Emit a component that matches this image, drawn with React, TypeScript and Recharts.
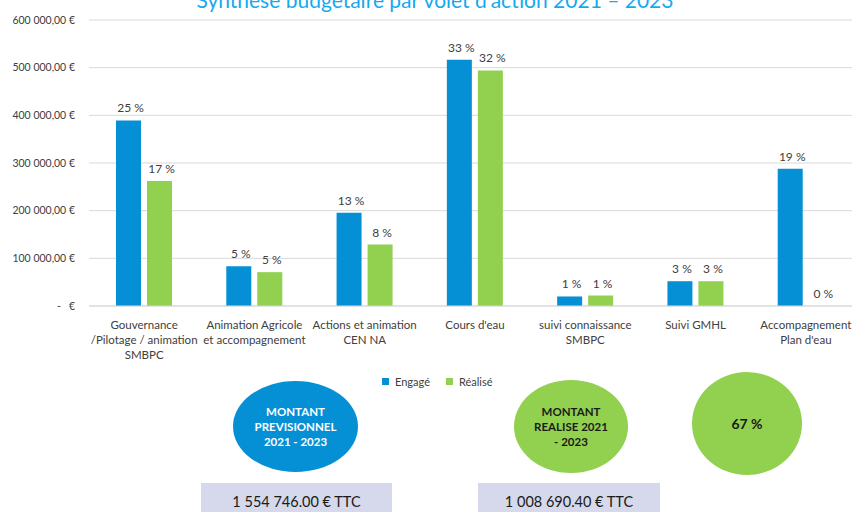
import { Bar, BarChart, CartesianGrid, LabelList, Legend, XAxis, YAxis } from 'recharts';

const BLUE = '#0590D6';
const GREEN = '#92D050';
const GRID = '#D9D9D9';
const TEXT = '#404040';
const FONT = 'Lato, "Open Sans", sans-serif';

const categories = [
  'Gouvernance\n/Pilotage / animation\nSMBPC',
  'Animation Agricole\net accompagnement',
  'Actions et animation\nCEN NA',
  "Cours d'eau",
  'suivi connaissance\nSMBPC',
  'Suivi GMHL',
  "Accompagnement\nPlan d'eau",
];
const engage = [389400, 83600, 195600, 516800, 20000, 52000, 288000];
const realise = [262000, 71000, 129000, 494300, 22000, 52000, 0];
const engagePct = [25, 5, 13, 33, 1, 3, 19];
const realisePct = [17, 5, 8, 32, 1, 3, 0];
const yTicks = [0, 100000, 200000, 300000, 400000, 500000, 600000];

const data = categories.map((name, i) => ({
  name,
  engage: engage[i],
  realise: realise[i],
  engagePct: engagePct[i],
  realisePct: realisePct[i],
}));

const euro = (v: number) => (v === 0 ? '-\u00a0\u00a0\u00a0€' : `${Math.round(v / 1000)} 000,00 €`);

function CategoryTick({ x, y, payload }: any) {
  const lines = String(payload.value).split('\n');
  return (
    <text x={x} y={y} textAnchor="middle" fill={TEXT} fontSize={11.5} fontFamily={FONT}>
      {lines.map((l, i) => (
        <tspan key={i} x={x} dy={i === 0 ? 21 : 15}>
          {l}
        </tspan>
      ))}
    </text>
  );
}

// percent label drawn above each bar, no wrapping
function PctLabel({ x, y, width, value }: any) {
  return (
    <text x={x + width / 2 + 2} y={y - 8} textAnchor="middle" fill={TEXT} fontSize={12} fontFamily={FONT}>
      {`${value} %`}
    </text>
  );
}

function LegendContent() {
  const items = [
    { label: 'Engagé', color: BLUE },
    { label: 'Réalisé', color: GREEN },
  ];
  return (
    <div style={{ display: 'flex', gap: 16, fontSize: 11, fontFamily: FONT, color: TEXT, alignItems: 'center' }}>
      {items.map((it) => (
        <span key={it.label} style={{ display: 'flex', alignItems: 'center', gap: 6 }}>
          <span style={{ width: 7, height: 7, background: it.color, display: 'inline-block' }} />
          {it.label}
        </span>
      ))}
    </div>
  );
}

function Bubble({ left, top, width, height, color, text, lines, size = 11.5 }: any) {
  return (
    <div
      style={{
        position: 'absolute',
        left,
        top,
        width,
        height,
        borderRadius: '50%',
        background: color,
        color: text,
        display: 'flex',
        flexDirection: 'column',
        alignItems: 'center',
        justifyContent: 'center',
        fontFamily: FONT,
        fontWeight: 700,
        fontSize: size,
        lineHeight: '15px',
        textAlign: 'center',
      }}
    >
      {lines.map((l: string) => (
        <div key={l}>{l}</div>
      ))}
    </div>
  );
}

function Box({ left, width, label }: any) {
  return (
    <div
      style={{
        position: 'absolute',
        left,
        top: 483,
        width,
        height: 40,
        background: '#D5D9EB',
        fontFamily: FONT,
        fontSize: 14.5,
        color: '#1a1a1a',
        textAlign: 'center',
        paddingTop: 10,
        boxSizing: 'border-box',
      }}
    >
      {label}
    </div>
  );
}

export default function App() {
  return (
    <div style={{ position: 'fixed', left: 0, top: 0, width: 852, height: 512, overflow: 'hidden', background: '#fff' }}>
      <div
        style={{
          position: 'absolute',
          left: 0,
          width: 870,
          top: -12,
          textAlign: 'center',
          fontFamily: FONT,
          fontSize: 21,
          lineHeight: '24px',
          color: '#15A9EF',
        }}
      >
        Synthèse budgétaire par volet d'action 2021 – 2023
      </div>
      <BarChart
        width={862}
        height={512}
        data={data}
        margin={{ top: 20, right: 1, left: 0, bottom: 0 }}
        barSize={25}
        barGap={6}
      >
        <CartesianGrid vertical={false} stroke={GRID} />
        <XAxis
          dataKey="name"
          height={206}
          interval={0}
          tickLine={false}
          tickSize={0}
          axisLine={{ stroke: GRID }}
          tick={<CategoryTick />}
        />
        <YAxis
          width={89}
          domain={[0, 600000]}
          ticks={yTicks}
          tickFormatter={euro}
          axisLine={false}
          tickLine={false}
          tickSize={0}
          tickMargin={14}
          tick={{ fontSize: 10.5, fill: TEXT, fontFamily: FONT }}
        />
        <Legend
          verticalAlign="middle"
          align="center"
          content={<LegendContent />}
          wrapperStyle={{ top: 375, left: 382, width: 'auto' }}
        />
        <Bar dataKey="engage" name="Engagé" fill={BLUE} isAnimationActive={false}>
          <LabelList dataKey="engagePct" content={<PctLabel />} />
        </Bar>
        <Bar
          dataKey="realise"
          name="Réalisé"
          fill={GREEN}
          minPointSize={(v: any) => (v === 0 ? 0.01 : 0)}
          isAnimationActive={false}
        >
          <LabelList dataKey="realisePct" content={<PctLabel />} />
        </Bar>
      </BarChart>
      <Bubble left={233} top={381} width={125} height={91} color={BLUE} text="#fff" lines={['MONTANT', 'PREVISIONNEL', '2021 - 2023']} />
      <Bubble left={514} top={380} width={114} height={93} color={GREEN} text="#1a1a1a" lines={['MONTANT', 'REALISE 2021', '- 2023']} />
      <Bubble left={692} top={372} width={110} height={103} color={GREEN} text="#1a1a1a" lines={['67 %']} size={14} />
      <Box left={201} width={191} label="1 554 746.00 € TTC" />
      <Box left={478} width={182} label="1 008 690.40 € TTC" />
    </div>
  );
}
